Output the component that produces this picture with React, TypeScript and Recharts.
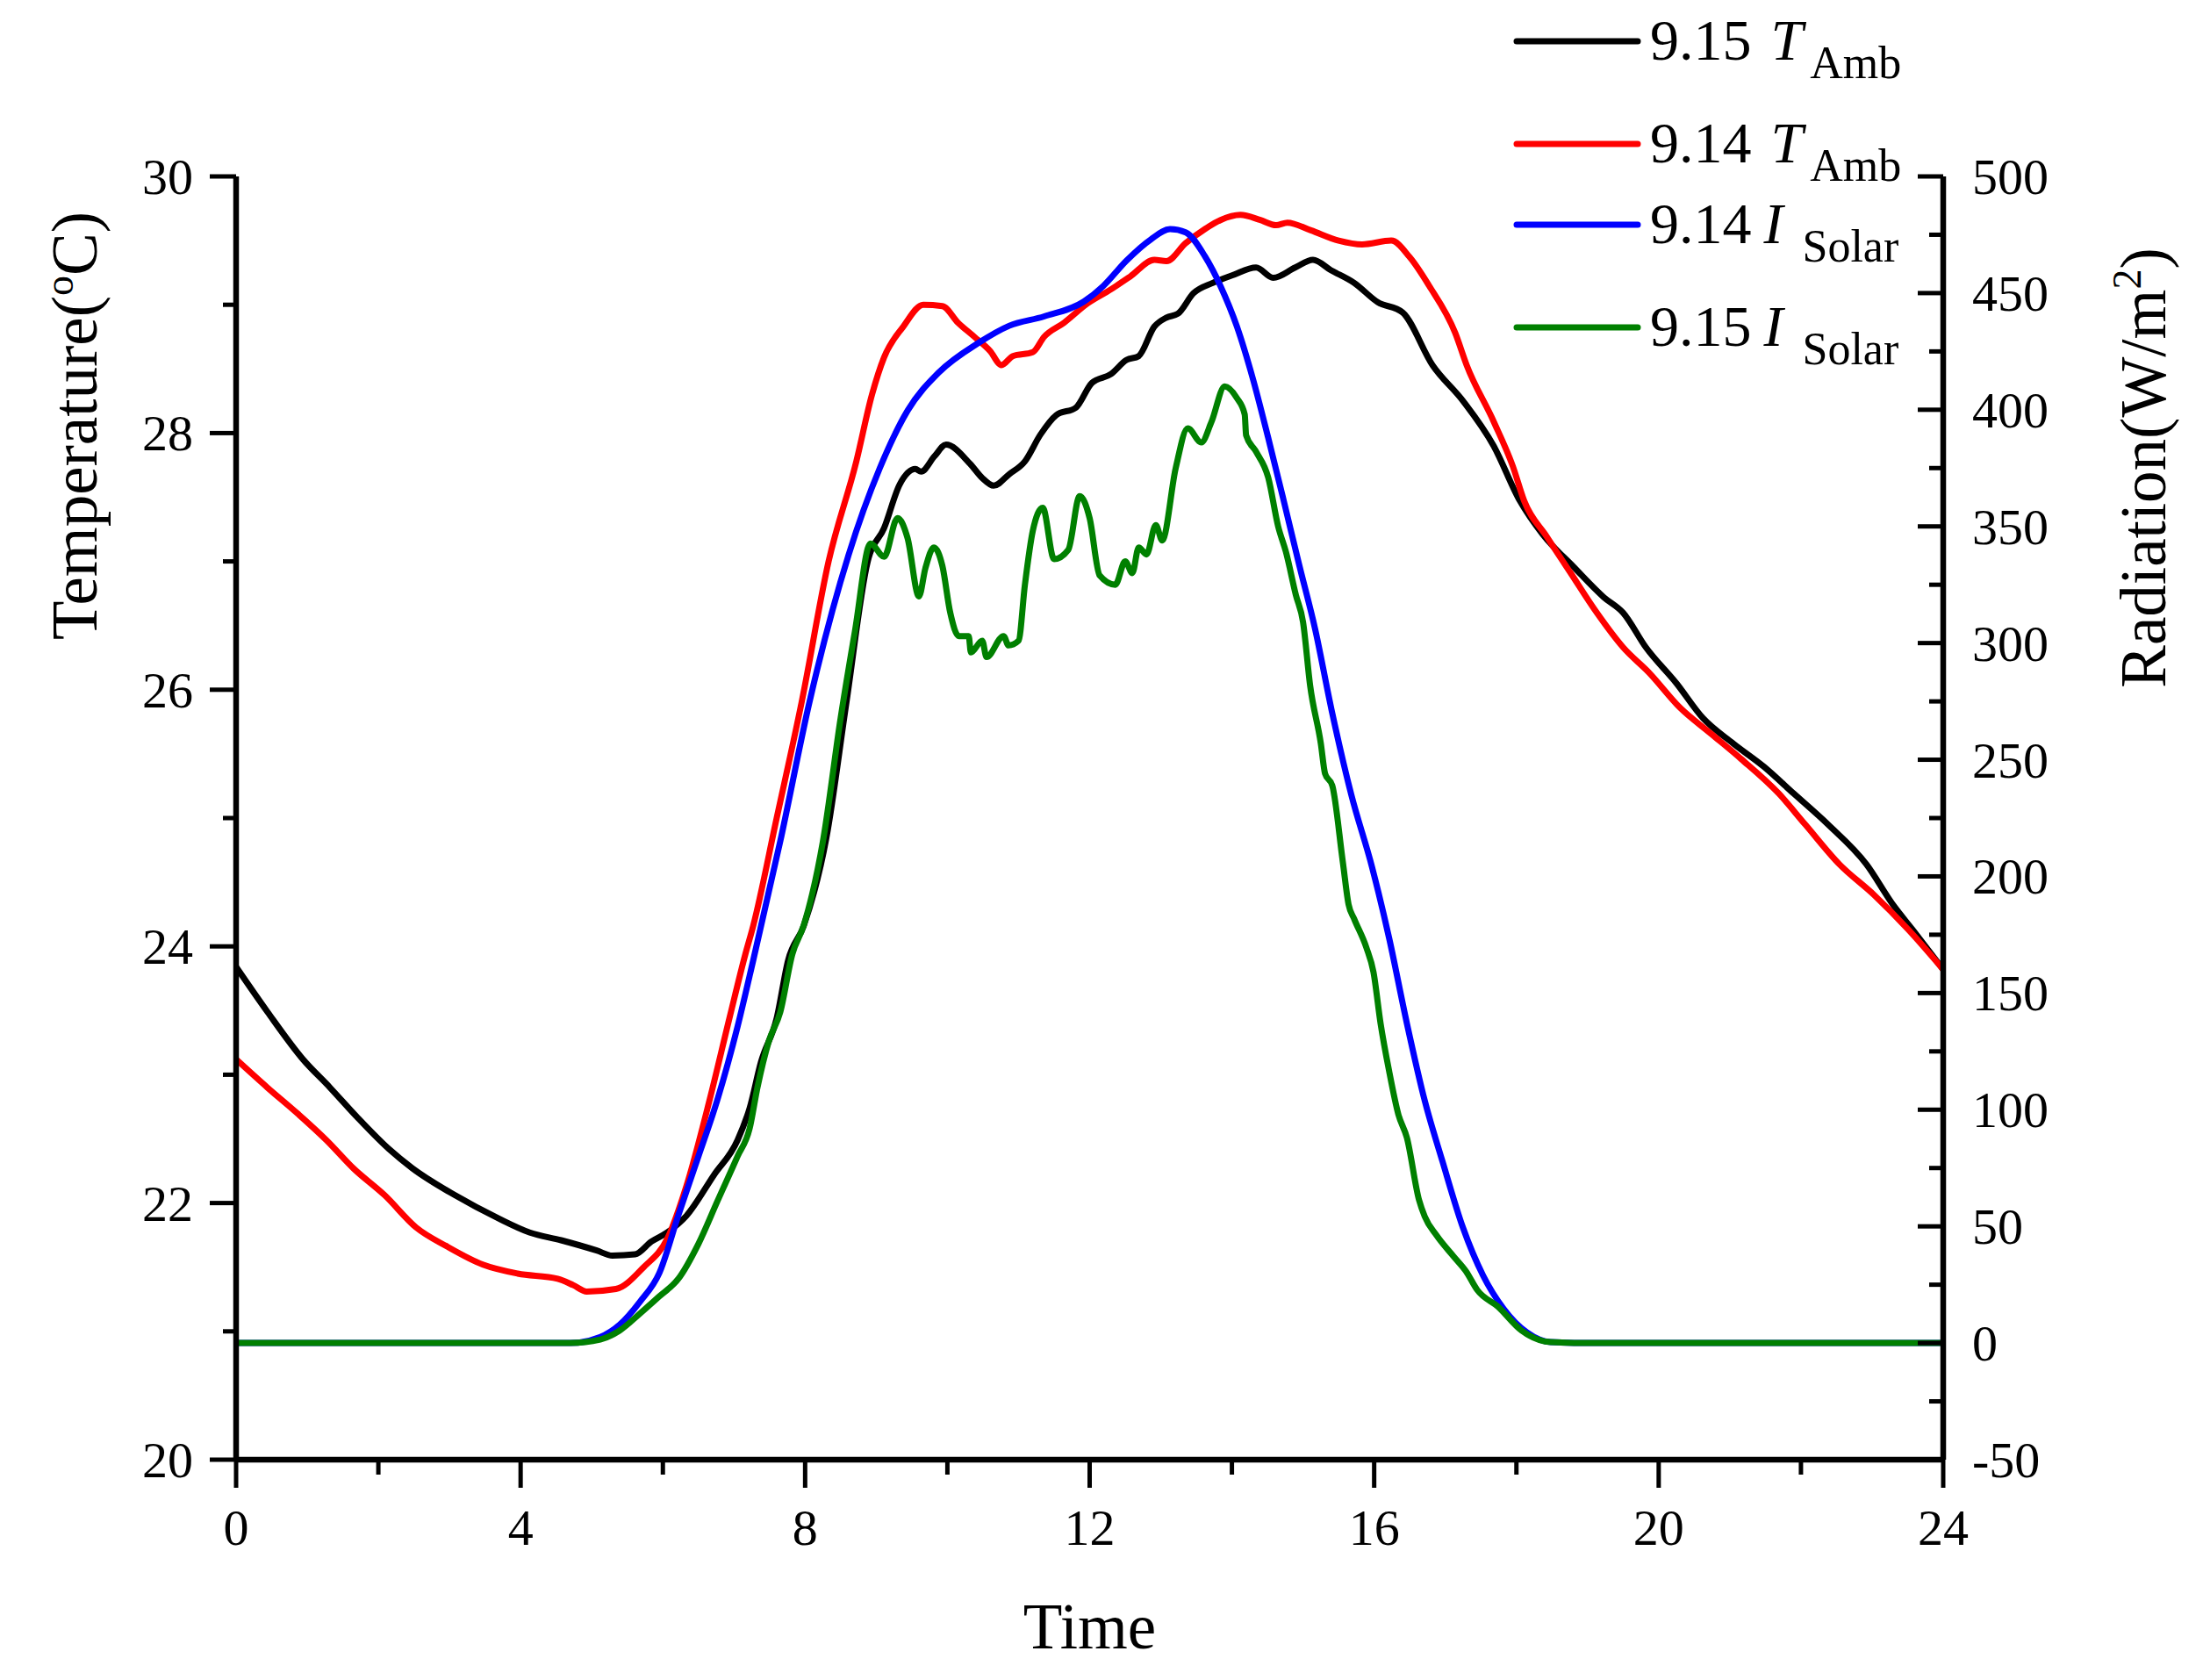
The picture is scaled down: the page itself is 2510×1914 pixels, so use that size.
import { LineChart, Line, XAxis, YAxis, Legend } from "recharts";

const FONT = '"Liberation Serif", "Times New Roman", serif';

// [hour, °C]
const ambTemp915: [number, number][] = [
  [0, 23.84], [0.44, 23.49], [0.94, 23.12], [1.32, 22.9], [1.7, 22.67], [2.15, 22.42],
  [2.48, 22.27], [3.08, 22.06], [3.69, 21.88], [4.13, 21.77], [4.57, 21.71], [5.07, 21.63],
  [5.29, 21.59], [5.61, 21.6], [5.84, 21.7], [6.06, 21.77], [6.33, 21.9], [6.72, 22.22],
  [7.05, 22.49], [7.22, 22.74], [7.38, 23.1], [7.6, 23.44], [7.76, 23.89], [7.98, 24.16],
  [8.3, 24.85], [8.58, 25.9], [8.88, 27.0], [9.11, 27.26], [9.33, 27.6], [9.55, 27.72],
  [9.63, 27.7], [9.82, 27.82], [9.98, 27.91], [10.32, 27.76], [10.49, 27.65], [10.65, 27.59],
  [10.87, 27.68], [11.09, 27.78], [11.31, 27.99], [11.53, 28.14], [11.81, 28.2], [12.03, 28.39],
  [12.3, 28.46], [12.52, 28.57], [12.69, 28.6], [12.91, 28.83], [13.08, 28.9], [13.24, 28.93],
  [13.46, 29.09], [13.73, 29.17], [14.01, 29.23], [14.34, 29.29], [14.58, 29.21], [14.89, 29.29],
  [15.14, 29.35], [15.39, 29.27], [15.72, 29.17], [16.05, 29.02], [16.4, 28.94], [16.82, 28.53],
  [17.25, 28.25], [17.68, 27.9], [18.05, 27.47], [18.37, 27.21], [18.8, 26.96], [19.23, 26.72],
  [19.5, 26.6], [19.82, 26.33], [20.25, 26.05], [20.62, 25.78], [21.05, 25.58], [21.48, 25.4],
  [21.9, 25.19], [22.38, 24.95], [22.92, 24.64], [23.3, 24.32], [23.57, 24.13], [24, 23.82],
];

const ambTemp914: [number, number][] = [
  [0, 23.12], [0.44, 22.9], [0.88, 22.69], [1.27, 22.49], [1.65, 22.27], [2.09, 22.06],
  [2.53, 21.81], [2.97, 21.66], [3.47, 21.52], [3.96, 21.45], [4.52, 21.41], [4.74, 21.36],
  [4.93, 21.31], [5.34, 21.33], [5.73, 21.5], [6.06, 21.72], [6.33, 22.13], [6.66, 22.81],
  [6.94, 23.45], [7.16, 23.94], [7.27, 24.16], [7.6, 25.0], [7.95, 25.9], [8.33, 27.0],
  [8.72, 27.78], [8.94, 28.3], [9.11, 28.59], [9.38, 28.83], [9.66, 29.0], [9.93, 28.99],
  [10.15, 28.86], [10.38, 28.75], [10.6, 28.64], [10.76, 28.53], [10.92, 28.6], [11.2, 28.63],
  [11.36, 28.75], [11.64, 28.86], [11.97, 29.01], [12.3, 29.12], [12.57, 29.22], [12.91, 29.35],
  [13.08, 29.34], [13.35, 29.48], [13.62, 29.59], [13.84, 29.66], [14.12, 29.7], [14.4, 29.66],
  [14.62, 29.62], [14.78, 29.64], [15.11, 29.58], [15.5, 29.5], [15.83, 29.47], [16.24, 29.5],
  [16.5, 29.37], [16.77, 29.15], [17.14, 28.78], [17.3, 28.53], [17.68, 28.09], [17.95, 27.74],
  [18.11, 27.47], [18.43, 27.19], [18.75, 26.92], [19.13, 26.6], [19.5, 26.33], [19.87, 26.13],
  [20.3, 25.86], [20.73, 25.66], [21.16, 25.46], [21.69, 25.19], [22.06, 24.95], [22.54, 24.64],
  [23.03, 24.4], [23.51, 24.13], [24, 23.82],
];

// [hour, W/m2]
const solar914: [number, number][] = [
  [0, 0], [2, 0], [4, 0], [4.7, 0], [5.12, 2.6], [5.39, 7.8], [5.68, 17.8], [5.95, 30],
  [6.22, 55], [6.5, 80], [6.77, 104.6], [7.05, 135.6], [7.27, 164], [7.65, 215], [8.06, 274.6],
  [8.61, 337.7], [9.05, 375], [9.44, 399.6], [9.88, 416], [10.43, 428.5], [10.87, 436],
  [11.36, 440], [11.92, 446.4], [12.19, 453], [12.52, 464], [12.86, 473], [13.13, 477.4],
  [13.35, 476], [13.62, 465.8], [13.84, 453], [14.07, 435.7], [14.29, 413.8], [14.51, 388],
  [14.73, 360.8], [14.95, 333], [15.17, 306], [15.4, 271.5], [15.68, 234.8], [15.97, 204],
  [16.21, 173.6], [16.46, 137], [16.71, 104], [16.96, 77.9], [17.25, 49.3], [17.53, 29],
  [17.82, 14.7], [18.15, 4.5], [18.48, 0.4], [19, 0], [21, 0], [24, 0],
];

const solar915: [number, number][] = [
  [0, 0], [2, 0], [4, 0], [4.7, 0], [5.12, 1.5], [5.39, 5.3], [5.68, 12.7], [5.95, 20],
  [6.22, 27.6], [6.5, 42.5], [6.77, 61], [7.05, 80], [7.22, 92], [7.33, 109.6], [7.49, 129.4],
  [7.65, 141.8], [7.82, 166.7], [7.98, 179], [8.25, 215], [8.5, 268], [8.7, 305], [8.92, 342.7],
  [9.11, 337], [9.3, 353.6], [9.44, 345], [9.6, 320], [9.69, 332], [9.81, 341], [9.93, 333],
  [10.04, 313], [10.16, 303], [10.3, 303], [10.33, 296], [10.49, 301], [10.55, 294],
  [10.79, 303], [10.86, 299], [11.0, 301], [11.09, 325], [11.2, 348], [11.34, 358], [11.5, 336],
  [11.7, 340], [11.86, 363], [12.0, 353.5], [12.14, 329], [12.36, 325], [12.5, 335], [12.6, 330],
  [12.69, 341], [12.8, 338], [12.93, 350.6], [13.02, 344], [13.21, 375], [13.38, 392],
  [13.57, 386], [13.71, 394.6], [13.9, 410], [14.07, 405], [14.18, 398], [14.2, 389],
  [14.34, 382], [14.51, 371], [14.65, 350], [14.76, 339], [14.9, 320.5], [15.0, 309],
  [15.1, 281.7], [15.25, 257], [15.31, 244], [15.41, 239], [15.56, 206], [15.64, 188],
  [15.72, 181.7], [15.89, 169.5], [15.99, 159], [16.09, 137], [16.21, 116.6], [16.34, 98],
  [16.46, 88], [16.63, 61.4], [16.71, 54.3], [16.88, 46], [17.12, 37], [17.29, 30.8],
  [17.45, 22.7], [17.74, 15.6], [18.07, 5.4], [18.48, 0.4], [19, 0], [21, 0], [24, 0],
];

const timeTicks = [0, 2, 4, 6, 8, 10, 12, 14, 16, 18, 20, 22, 24];
const tempTicks = [20, 21, 22, 23, 24, 25, 26, 27, 28, 29, 30];
const radTicks = [-50, -25, 0, 25, 50, 75, 100, 125, 150, 175, 200, 225, 250, 275, 300, 325, 350, 375, 400, 425, 450, 475, 500];

const legendOrder = ["9.15 T_Amb", "9.14 T_Amb", "9.14 I_Solar", "9.15 I_Solar"];

const toPoints = (rows: [number, number][]) => rows.map(([t, v]) => ({ t, v }));

function TimeTick(props: any) {
  const { x, y, payload } = props;
  const major = payload.value % 4 === 0;
  return (
    <g>
      <line x1={x} x2={x} y1={y} y2={y + (major ? 32 : 17)} stroke="#000" strokeWidth={5} />
      {major && (
        <text x={x} y={y + 97} textAnchor="middle" fontSize={58} fontFamily={FONT} fill="#000">
          {payload.value}
        </text>
      )}
    </g>
  );
}

function TempTick(props: any) {
  const { x, y, payload } = props;
  const major = (payload.value - 20) % 2 === 0;
  return (
    <g>
      <line x1={x - (major ? 30 : 15)} x2={x} y1={y} y2={y} stroke="#000" strokeWidth={5} />
      {major && (
        <text x={x - 49} y={y + 20} textAnchor="end" fontSize={58} fontFamily={FONT} fill="#000">
          {payload.value}
        </text>
      )}
    </g>
  );
}

function RadTick(props: any) {
  const { x, y, payload } = props;
  const major = payload.value % 50 === 0;
  // ticks on this axis point into the plot
  return (
    <g>
      <line x1={x - (major ? 29 : 16)} x2={x} y1={y} y2={y} stroke="#000" strokeWidth={5} />
      {major && (
        <text x={x + 33} y={y + 20} textAnchor="start" fontSize={58} fontFamily={FONT} fill="#000">
          {payload.value}
        </text>
      )}
    </g>
  );
}

const timeTitle = (props: any) => {
  const vb = props.viewBox ?? { x: 269, y: 1663, width: 1945, height: 251 };
  return (
    <text x={vb.x + vb.width / 2} y={vb.y + 215} textAnchor="middle" fontSize={73} fontFamily={FONT} fill="#000">
      Time
    </text>
  );
};

const tempTitle = (props: any) => {
  const vb = props.viewBox ?? { x: 0, y: 201 };
  const cx = vb.x + 110;
  const cy = vb.y + 284;
  return (
    <text x={cx} y={cy} transform={`rotate(-90 ${cx} ${cy})`} textAnchor="middle" fontSize={73} fontFamily={FONT} fill="#000">
      Temperature(<tspan fontSize={46} dy={-27}>o</tspan>
      <tspan dy={27}>C)</tspan>
    </text>
  );
};

const radTitle = (props: any) => {
  const vb = props.viewBox ?? { x: 2214, y: 201 };
  const cx = vb.x + 253;
  const cy = vb.y + 332;
  return (
    <text x={cx} y={cy} transform={`rotate(-90 ${cx} ${cy})`} textAnchor="middle" fontSize={73} fontFamily={FONT} fill="#000">
      Radiation(W/m<tspan fontSize={46} dy={-28}>2</tspan>
      <tspan dy={28}>)</tspan>
    </text>
  );
};

const legendRowY = [47, 164, 256, 373];

function LegendBox(props: any) {
  const items = [...(props.payload ?? [])].sort(
    (a: any, b: any) => legendOrder.indexOf(a.value) - legendOrder.indexOf(b.value)
  );
  return (
    <svg width={520} height={440} style={{ overflow: "visible" }}>
      {items.map((entry: any, i: number) => {
        const [date, sym] = String(entry.value).split(" ");
        const [letter, sub] = sym.split("_");
        const y = legendRowY[i];
        const isT = letter === "T";
        return (
          <g key={entry.value}>
            <line x1={28} x2={166} y1={y} y2={y} stroke={entry.color} strokeWidth={7} strokeLinecap="round" />
            <text x={180} y={y + 21} fontSize={66} fontFamily={FONT} fill="#000">
              {date}
              <tspan dx={isT ? 22 : 14} fontStyle="italic">{letter}</tspan>
              <tspan dx={isT ? 8 : 22} dy={21} fontSize={52}>{sub}</tspan>
            </text>
          </g>
        );
      })}
    </svg>
  );
}

export default function App() {
  const lineProps = {
    dataKey: "v",
    dot: false,
    activeDot: false,
    strokeWidth: 7,
    type: "monotone" as const,
    isAnimationActive: false,
    strokeLinejoin: "round" as const,
  };
  return (
    <div style={{ position: "absolute", left: 0, top: 0, width: 2510, height: 1914, background: "#fff" }}>
      <LineChart width={2510} height={1914} margin={{ top: 201, right: 0, bottom: 0, left: 0 }}>
        <XAxis
          dataKey="t"
          type="number"
          domain={[0, 24]}
          ticks={timeTicks}
          interval={0}
          height={251}
          tickSize={0}
          tickMargin={0}
          tickLine={false}
          axisLine={{ stroke: "#000", strokeWidth: 6.5 }}
          tick={TimeTick}
          label={{ content: timeTitle }}
          allowDataOverflow
        />
        <YAxis
          yAxisId="temp"
          orientation="left"
          type="number"
          domain={[20, 30]}
          ticks={tempTicks}
          interval={0}
          width={269}
          tickSize={0}
          tickMargin={0}
          tickLine={false}
          axisLine={{ stroke: "#000", strokeWidth: 6.5 }}
          tick={TempTick}
          label={{ content: tempTitle }}
          allowDataOverflow
        />
        <YAxis
          yAxisId="rad"
          orientation="right"
          type="number"
          domain={[-50, 500]}
          ticks={radTicks}
          interval={0}
          width={296}
          tickSize={0}
          tickMargin={0}
          tickLine={false}
          axisLine={{ stroke: "#000", strokeWidth: 6.5 }}
          tick={RadTick}
          label={{ content: radTitle }}
          allowDataOverflow
        />
        <Legend
          layout="vertical"
          align="center"
          verticalAlign="middle"
          content={LegendBox}
          wrapperStyle={{ left: 1700, top: 0, width: 520, height: 440 }}
        />
        <Line {...lineProps} yAxisId="temp" data={toPoints(ambTemp915)} name="9.15 T_Amb" stroke="#000000" />
        <Line {...lineProps} yAxisId="temp" data={toPoints(ambTemp914)} name="9.14 T_Amb" stroke="#ff0000" />
        <Line {...lineProps} yAxisId="rad" data={toPoints(solar914)} name="9.14 I_Solar" stroke="#0000ff" />
        <Line {...lineProps} yAxisId="rad" data={toPoints(solar915)} name="9.15 I_Solar" stroke="#008000" />
      </LineChart>
    </div>
  );
}
